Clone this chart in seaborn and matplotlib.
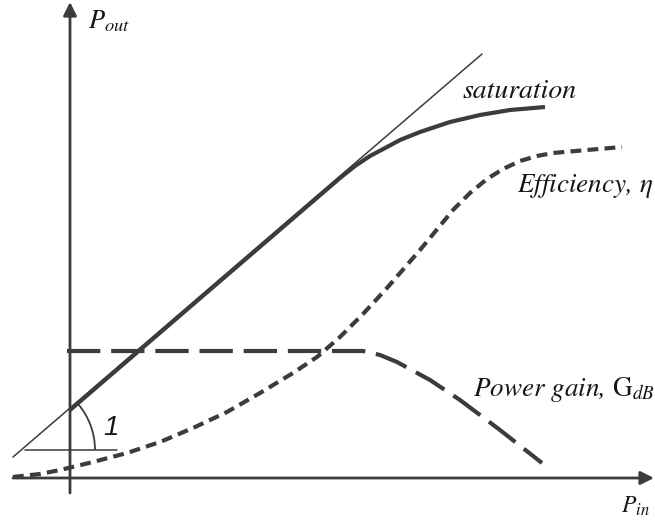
import numpy as np
import pandas as pd
import matplotlib
matplotlib.use("Agg")
import matplotlib.pyplot as plt
from matplotlib.patches import Arc
import seaborn as sns

# Amplifier transfer characteristics (arbitrary units, origin at the axes crossing)
# Ideal linear response (thin reference line)
linear_pin = [-57, 412]
linear_pout = [21, 424]

# Output power: linear region bending into saturation
pout_pin = [0, 270, 285, 300, 317, 330, 350, 380, 410, 440, 475]
pout_val = [68, 300, 312, 322, 331, 338, 346, 356, 363, 368, 371]

# Power gain in dB: flat, then compression
gain_pin = [-3, 293, 310, 327, 360, 390, 430, 472]
gain_val = [127, 127, 123, 116, 98, 78, 48, 15]

# Drain efficiency
eff_pin = [-57, -30, -10, 23, 57, 90, 123, 157, 190, 223, 247, 270,
           293, 317, 350, 383, 400, 417, 433, 450, 467, 483, 517, 552]
eff_val = [1, 4, 8, 16, 25, 36, 50, 66, 85, 105, 121, 141,
           164, 190, 228, 268, 285, 299, 309, 317, 322, 325, 328, 331]

# Slope marker ("1")
ref_x = [-45, 47]
ref_y = [28, 28]

sns.set_theme(style="white")
plt.rcParams["mathtext.fontset"] = "stix"

ink = "#3c3c3c"
txt = "#161616"

fig = plt.figure(figsize=(6.55, 5.24), dpi=100)
ax = fig.add_axes([0, 0, 1, 1])
ax.set_xlim(-70, 585)
ax.set_ylim(-46, 478)
for s in ax.spines.values():
    s.set_visible(False)
ax.set_xticks([])
ax.set_yticks([])

# Coordinate axes with arrowheads
arrow_kw = dict(arrowstyle="-|>", mutation_scale=20, lw=2.0, color=ink,
                shrinkA=0, shrinkB=0)
ax.annotate("", xy=(584, 0), xytext=(-57, 0), arrowprops=arrow_kw)
ax.annotate("", xy=(0, 476), xytext=(0, -15), arrowprops=arrow_kw)

# Curves
sns.lineplot(x=linear_pin, y=linear_pout, ax=ax, color=ink, lw=1.1,
             estimator=None, sort=False)
sns.lineplot(x=pout_pin, y=pout_val, ax=ax, color=ink, lw=3.0,
             estimator=None, sort=False, solid_capstyle="butt")
sns.lineplot(x=gain_pin, y=gain_val, ax=ax, color=ink, lw=3.0,
             estimator=None, sort=False, linestyle=(0, (8.0, 2.6)))
sns.lineplot(x=eff_pin, y=eff_val, ax=ax, color=ink, lw=3.0,
             estimator=None, sort=False, linestyle=(0, (2.6, 1.5)))
sns.lineplot(x=ref_x, y=ref_y, ax=ax, color=ink, lw=1.1,
             estimator=None, sort=False)

# Angle arc between the reference line and the horizontal
slope_deg = np.degrees(np.arctan2(linear_pout[1] - linear_pout[0],
                                  linear_pin[1] - linear_pin[0]))
ax.add_patch(Arc((ref_x[0] - 1, ref_y[0]), 142, 142, theta1=0, theta2=slope_deg,
                 color=ink, lw=1.3))

serif = dict(family="STIXGeneral", style="italic", color=txt)
ax.text(41, 50, "1", family="Liberation Sans", style="italic", fontsize=20,
        color=txt, ha="center", va="center")
ax.text(18, 457, r"$P_{out}$", fontsize=19, color=txt, ha="left", va="center")
ax.text(580, -28, r"$P_{in}$", fontsize=17, color=txt, ha="right", va="center")
ax.text(393, 386, "saturation", fontsize=20, ha="left", va="center", **serif)
ax.text(447, 292, r"Efficiency, $\eta$", fontsize=19.5, ha="left", va="center", **serif)
ax.text(403, 88, r"Power gain, $\mathrm{G}_{dB}$", fontsize=19.5, ha="left",
        va="center", **serif)

fig.savefig("out.png", dpi=100, facecolor="white")
